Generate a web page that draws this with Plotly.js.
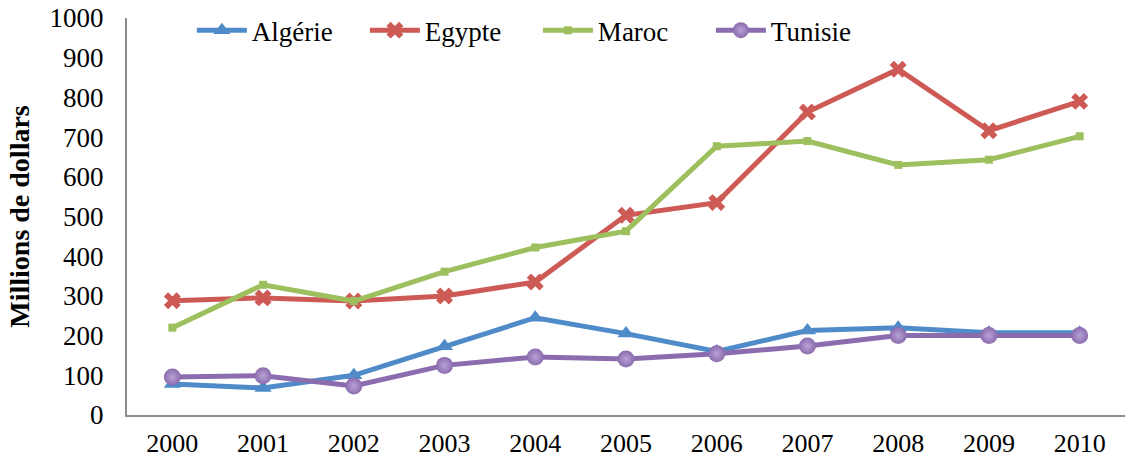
<!DOCTYPE html>
<html>
<head>
<meta charset="utf-8">
<script src="https://cdn.plot.ly/plotly-3.0.1.min.js"></script>
<style>html,body{margin:0;padding:0;background:#fff;}#chart{width:1125px;height:459px;}</style>
</head>
<body>
<div id="chart"></div>
<script>
const years = [2000, 2001, 2002, 2003, 2004, 2005, 2006, 2007, 2008, 2009, 2010];
const algerie = [78, 68, 100, 173, 245, 205, 160, 213, 220, 207, 207];
const egypte = [288, 295, 287, 300, 335, 503, 535, 763, 871, 716, 790];
const maroc = [220, 328, 287, 361, 422, 463, 677, 690, 630, 643, 702];
const tunisie = [96, 99, 73, 125, 146, 141, 154, 174, 200, 200, 200];
const yTicks = [0, 100, 200, 300, 400, 500, 600, 700, 800, 900, 1000];

const serif = '"Liberation Serif", serif';

function series(name, y, color, marker) {
  return {
    type: 'scatter', mode: 'lines+markers', name: name, x: years, y: y,
    line: {color: color, width: 5},
    marker: Object.assign({color: color}, marker),
    cliponaxis: false
  };
}

const data = [
  series('Algérie', algerie, '#4F8BC9', {symbol: 'triangle-up', size: 15}),
  series('Egypte', egypte, '#CD5A55', {symbol: 'x', size: 15}),
  series('Maroc', maroc, '#9DBF5E', {symbol: 'square', size: 8}),
  series('Tunisie', tunisie, '#8B6CAE', {symbol: 'circle', size: 17, gradient: {type: 'radial', color: '#B8A3D6'}})
];

const layout = {
  width: 1125, height: 459,
  margin: {l: 127, r: 0, t: 18, b: 44},
  paper_bgcolor: '#ffffff', plot_bgcolor: '#ffffff',
  font: {family: serif, color: '#000'},
  showlegend: true,
  legend: {
    orientation: 'h', x: 0.065, xanchor: 'left', y: 1.03, yanchor: 'top',
    font: {family: serif, size: 27, color: '#000'},
    itemwidth: 50, entrywidth: 108, entrywidthmode: 'pixels',
    bgcolor: 'rgba(0,0,0,0)'
  },
  xaxis: {
    range: [1999.5, 2010.5], tickmode: 'array', tickvals: years,
    ticktext: years.map(String),
    showgrid: false, zeroline: false, showline: true,
    linecolor: '#8C8C8C', linewidth: 2, ticks: '',
    tickfont: {family: serif, size: 26, color: '#000'},
    ticklabelstandoff: 4
  },
  yaxis: {
    range: [0, 1000], tickmode: 'array', tickvals: yTicks,
    showgrid: false, zeroline: false, showline: true,
    linecolor: '#8C8C8C', linewidth: 2, ticks: '',
    tickfont: {family: serif, size: 27, color: '#000'},
    ticklabelstandoff: 16,
    title: {text: '<b>Millions de dollars</b>', font: {family: serif, size: 28, color: '#000'}, standoff: 12}
  }
};

Plotly.newPlot('chart', data, layout, {displayModeBar: false, staticPlot: true});
</script>
</body>
</html>
